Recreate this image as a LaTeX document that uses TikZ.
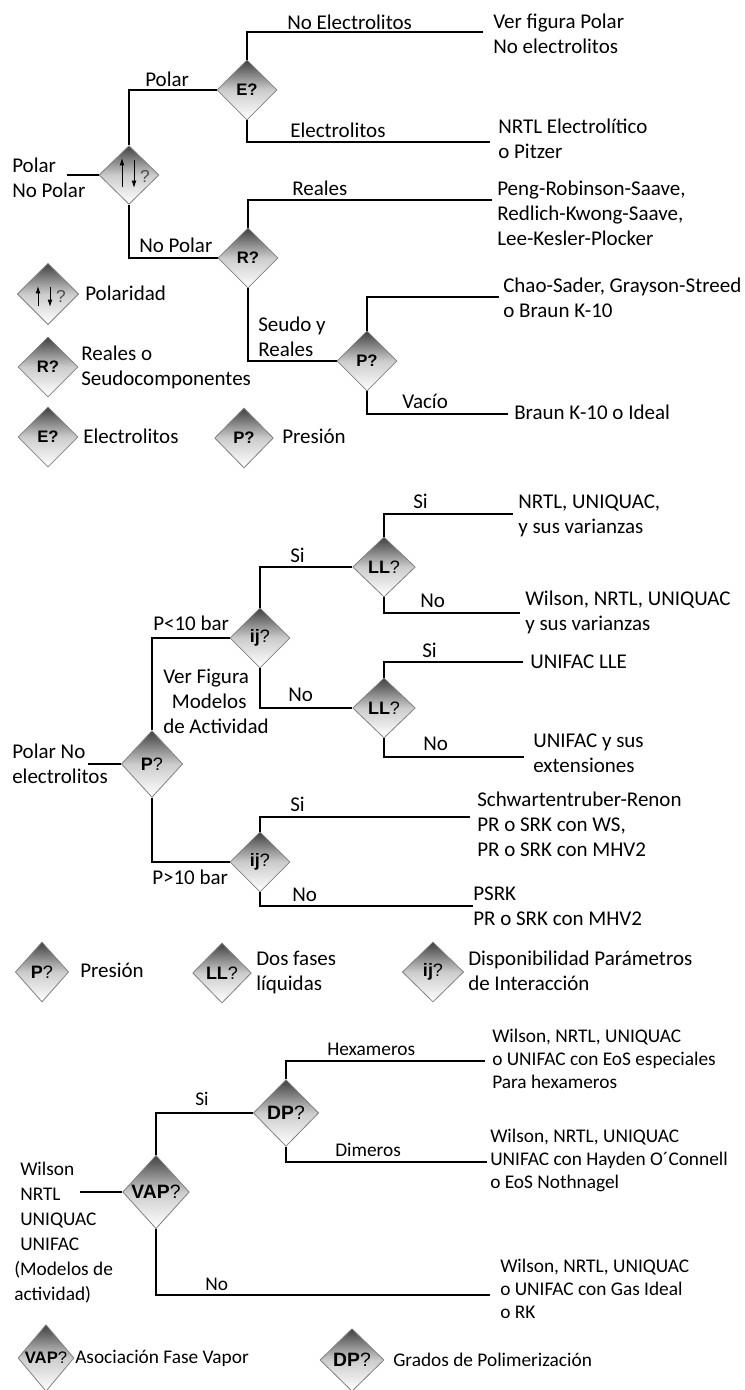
\documentclass[tikz,border=0pt]{standalone}
\usepackage{fontspec}
\setmainfont{Carlito}
\newfontfamily\diafont{Liberation Sans}
\usetikzlibrary{shapes.geometric,arrows.meta}

% multi-line labels whose baseline is the first line
\newcommand{\ml}[1]{\begin{tabular}[t]{@{}l@{}}#1\end{tabular}}

\tikzset{
  conn/.style={line width=2.2pt, line join=miter},
  dia/.style={diamond, draw=black!50, line width=0.6pt,
    top color=black!75, bottom color=white, middle color=black!20,
    inner sep=0pt, minimum width=45pt, minimum height=45pt,
    font=\diafont\fontsize{12.5pt}{14pt}\selectfont},
  diam/.style={dia, font=\diafont\fontsize{13.5pt}{15pt}\selectfont},
  diab/.style={dia, font=\diafont\fontsize{14.5pt}{16pt}\selectfont},
  lbl/.style={anchor=base west, inner sep=0pt, font=\fontsize{15.75pt}{18.75pt}\selectfont},
  lbls/.style={lbl, font=\fontsize{14.5pt}{17.25pt}\selectfont},
  lbll/.style={lbl, font=\fontsize{14.5pt}{18.75pt}\selectfont},
  polarrow/.style={line width=0.7pt, -{Latex[length=5.5pt,width=3.6pt]}},
  qmark/.style={inner sep=0pt, font=\diafont\fontsize{13pt}{14pt}\selectfont, text=black!70},
}

\begin{document}
\begin{tikzpicture}[x=0.75pt,y=-0.75pt]
\useasboundingbox (0,0) rectangle (744,1390);

% ---------------- Polar / No polar ----------------
\node[dia, minimum height=44pt] (pol) at (129,175) {};
\draw[polarrow] (122,187) -- (122,158);
\draw[polarrow] (134,160) -- (134,188);
\node[qmark] (polq) at (145,176) {?};

\node[dia] (E) at (247,90) {\bfseries E?};
\node[dia] (R) at (248,258) {\bfseries R?};
\node[dia] (P1) at (367,361) {\bfseries P?};

\coordinate (in1) at (67,175);
\coordinate (c1) at (483,32);
\coordinate (c2) at (490,142);
\coordinate (c3) at (492,200);
\coordinate (c4) at (499,297);
\coordinate (c5) at (508,414);

\draw[conn] (in1) -- (pol.west);
\draw[conn] (pol.north) |- (E.west);
\draw[conn] (E.north) |- (c1);
\draw[conn] (E.south) |- (c2);
\draw[conn] (pol.south) |- (R.west);
\draw[conn] (R.north) |- (c3);
\draw[conn] (R.south) |- (P1.west);
\draw[conn] (P1.north) |- (c4);
\draw[conn] (P1.south) |- (c5);

\node[lbl] (tIn1) at (12,172) {\ml{Polar\\No Polar}};
\node[lbl] (tPolar) at (145,86) {Polar};
\node[lbl] (tNoEl) at (287,29) {No Electrolitos};
\node[lbl] (tEl) at (290,137) {Electrolitos};
\node[lbl] (tR1) at (493,28) {\ml{Ver figura Polar\\No electrolitos}};
\node[lbl] (tR2) at (498,133) {\ml{NRTL Electrolítico\\o Pitzer}};
\node[lbl] (tNoPolar) at (139,252) {No Polar};
\node[lbl] (tReales) at (292,195) {Reales};
\node[lbl] (tR3) at (497,195) {\ml{Peng-Robinson-Saave,\\Redlich-Kwong-Saave,\\Lee-Kesler-Plocker}};
\node[lbl] (tSeudo) at (258,331) {\ml{Seudo y\\Reales}};
\node[lbl] (tR4) at (503,292) {\ml{Chao-Sader, Grayson-Streed\\o Braun K-10}};
\node[lbl] (tVacio) at (402,408) {Vacío};
\node[lbl] (tR5) at (514,419) {Braun K-10 o Ideal};

% legend
\node[dia, minimum width=46pt, minimum height=46pt] (lpol) at (48,294) {};
\draw[polarrow] (38,306) -- (38,286);
\draw[polarrow] (50,287) -- (50,307);
\node[qmark] (lpolq) at (61,296) {?};
\node[lbl] (tLpol) at (85,300) {Polaridad};
\node[dia] (lR) at (48,367) {\bfseries R?};
\node[lbl] (tLR) at (81,360) {\ml{Reales o\\Seudocomponentes}};
\node[dia] (lE) at (48,437) {\bfseries E?};
\node[lbl] (tLE) at (83,443) {Electrolitos};
\node[dia, minimum width=44pt] (lP) at (244,438) {\bfseries P?};
\node[lbl] (tLP) at (282,443) {Presión};

% ---------------- Polar no electrolitos ----------------
\node[diam, minimum width=46pt, minimum height=50pt] (P2) at (152,764) {\textbf{P}?};
\node[diam] (ij1) at (260,638) {\textbf{ij}?};
\node[diam, minimum width=47pt] (LL1) at (384,567) {\textbf{LL}?};
\node[diam, minimum width=47pt] (LL2) at (384,708) {\textbf{LL}?};
\node[diam] (ij2) at (260,862) {\textbf{ij}?};

\coordinate (in2) at (88,764);
\coordinate (c6) at (513,514);
\coordinate (c7) at (520,613);
\coordinate (c8) at (523,662);
\coordinate (c9) at (524,757);
\coordinate (c10) at (470,817);
\coordinate (c11) at (473,906);

\draw[conn] (in2) -- (P2.west);
\draw[conn] (P2.north) |- (ij1.west);
\draw[conn] (ij1.north) |- (LL1.west);
\draw[conn] (LL1.north) |- (c6);
\draw[conn] (LL1.south) |- (c7);
\draw[conn] (ij1.south) |- (LL2.west);
\draw[conn] (LL2.north) |- (c8);
\draw[conn] (LL2.south) |- (c9);
\draw[conn] (P2.south) |- (ij2.west);
\draw[conn] (ij2.north) |- (c10);
\draw[conn] (ij2.south) |- (c11);

\node[lbl] (tIn2) at (12,758) {\ml{Polar No\\electrolitos}};
\node[lbl] (tPlow) at (153,630) {P<10 bar};
\node[lbl] (tSi1) at (290,562) {Si};
\node[lbl] (tNo1) at (288,701) {No};
\node[lbl] (tVer) at (163,683) {\ml{Ver Figura\\\hspace{6.5pt}Modelos\\de Actividad}};
\node[lbl] (tSi2) at (413,508) {Si};
\node[lbl] (tM1) at (518,508) {\ml{NRTL, UNIQUAC,\\y sus varianzas}};
\node[lbl] (tNo2) at (420,607) {No};
\node[lbl] (tM2) at (525,605) {\ml{Wilson, NRTL, UNIQUAC\\y sus varianzas}};
\node[lbl] (tSi3) at (422,657) {Si};
\node[lbl] (tM3) at (530,668) {UNIFAC LLE};
\node[lbl] (tNo3) at (423,750) {No};
\node[lbl] (tM4) at (533,747) {\ml{UNIFAC y sus\\extensiones}};
\node[lbl] (tSi4) at (290,811) {Si};
\node[lbl] (tM5) at (477,806) {\ml{Schwartentruber-Renon\\PR o SRK con WS,\\PR o SRK con MHV2}};
\node[lbl] (tPhigh) at (152,884) {P>10 bar};
\node[lbl] (tNo4) at (292,901) {No};
\node[lbl] (tM6) at (473,900) {\ml{PSRK\\PR o SRK con MHV2}};

% legend
\node[diam, minimum width=40pt] (lP2) at (42,972) {\textbf{P}?};
\node[lbl] (tLP2) at (80,977) {Presión};
\node[diam, minimum width=44pt] (lLL) at (222,973) {\textbf{LL}?};
\node[lbl] (tLLL) at (256,965) {\ml{Dos fases\\líquidas}};
\node[diam, minimum width=46pt] (lij) at (433,972) {\textbf{ij}?};
\node[lbl] (tLij) at (468,965) {\ml{Disponibilidad Parámetros\\de Interacción}};

% ---------------- Actividad ----------------
\node[diab, minimum width=50pt, minimum height=55pt] (VAP) at (156,1192) {\textbf{VAP}?};
\node[diab, minimum width=49pt, minimum height=50pt] (DP) at (286,1113) {\textbf{DP}?};

\coordinate (in3) at (80,1192);
\coordinate (c12) at (485,1061);
\coordinate (c13) at (487,1162);
\coordinate (c14) at (490,1295);

\draw[conn] (in3) -- (VAP.west);
\draw[conn] (VAP.north) |- (DP.west);
\draw[conn] (DP.north) |- (c12);
\draw[conn] (DP.south) |- (c13);
\draw[conn] (VAP.south) |- (c14);

\node[lbll] (tIn3) at (20,1175) {\ml{Wilson\\NRTL\\UNIQUAC\\UNIFAC}};
\node[lbll] (tIn3b) at (14,1275) {\ml{(Modelos de\\actividad)}};
\node[lbls] (tSi5) at (195,1105) {Si};
\node[lbls] (tHex) at (327,1055) {Hexameros};
\node[lbls] (tA1) at (492,1042) {\ml{Wilson, NRTL, UNIQUAC\\o UNIFAC con EoS especiales\\Para hexameros}};
\node[lbls] (tDim) at (335,1156) {Dimeros};
\node[lbls] (tA2) at (490,1142) {\ml{Wilson, NRTL, UNIQUAC\\UNIFAC con Hayden O´Connell\\o EoS Nothnagel}};
\node[lbls] (tNo5) at (205,1290) {No};
\node[lbls] (tA3) at (500,1272) {\ml{Wilson, NRTL, UNIQUAC\\o UNIFAC con Gas Ideal\\o RK}};

% legend
\node[dia, minimum width=42pt, minimum height=50pt, font=\diafont\fontsize{12.5pt}{14pt}\selectfont] (lVAP) at (46,1358) {\textbf{VAP}?};
\node[lbls] (tLVAP) at (75,1363) {Asociación Fase Vapor};
\node[diab, minimum width=48pt, minimum height=47pt] (lDP) at (352,1360) {\textbf{DP}?};
\node[lbls] (tLDP) at (393,1366) {Grados de Polimerización};
\end{tikzpicture}
\end{document}
